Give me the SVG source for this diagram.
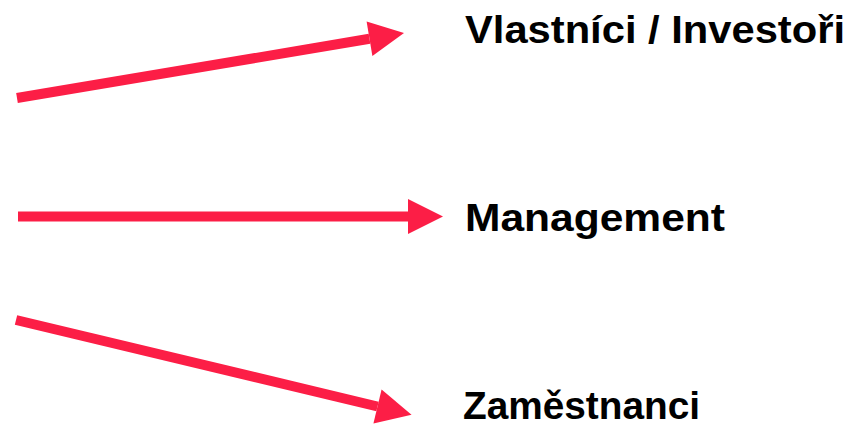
<svg xmlns="http://www.w3.org/2000/svg" width="856" height="425" viewBox="0 0 856 425">
<style>
.conn{stroke:#FC1E46;stroke-width:10;fill:none;marker-end:url(#head)}
.lbl{font-family:"Liberation Sans",Arial,sans-serif;font-weight:bold;font-size:38px;fill:#000}
</style>
<defs>
<marker id="head" markerUnits="userSpaceOnUse" markerWidth="36" markerHeight="36" refX="0" refY="17.5" orient="auto" overflow="visible">
<path d="M0,0 L35,17.5 L0,35 Z" fill="#FC1E46"/>
</marker>
</defs>
<rect width="856" height="425" fill="#fff"/>
<g id="connectors">
<line class="conn" x1="17" y1="98" x2="369.5" y2="38.8"/>
<line class="conn" x1="18" y1="216.5" x2="408" y2="216.5"/>
<line class="conn" x1="16" y1="320" x2="377.5" y2="406.5"/>
</g>
<g id="n1"><text class="lbl" x="465" y="43" textLength="380" lengthAdjust="spacingAndGlyphs">Vlastníci / Investoři</text></g>
<g id="n2"><text class="lbl" x="465" y="231" textLength="260" lengthAdjust="spacingAndGlyphs">Management</text></g>
<g id="n3"><text class="lbl" x="463" y="419" textLength="237" lengthAdjust="spacingAndGlyphs">Zaměstnanci</text></g>
</svg>
